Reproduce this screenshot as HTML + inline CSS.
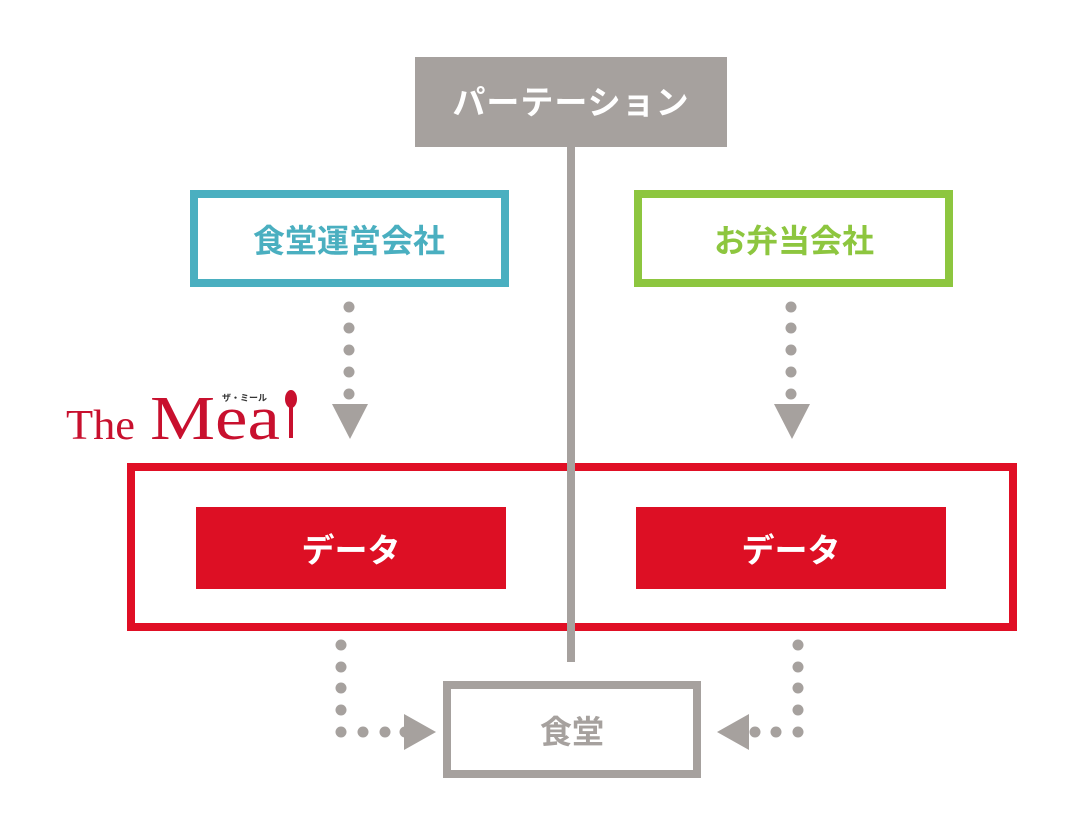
<!DOCTYPE html>
<html><head><meta charset="utf-8"><style>
html,body{margin:0;padding:0;background:#fff;}
svg{display:block;}
text{font-family:"Liberation Sans","Noto Sans CJK JP",sans-serif;font-weight:bold;}
</style></head><body>
<svg width="1080" height="832" viewBox="0 0 1080 832" xmlns="http://www.w3.org/2000/svg">
<rect x="415" y="57" width="312" height="90" fill="#a6a19e"/>
<text x="571" y="114" font-size="33" fill="#fff" text-anchor="middle" letter-spacing="1">パーテーション</text>
<rect x="194" y="194" width="311" height="89" fill="none" stroke="#4aafc0" stroke-width="8"/>
<text x="349" y="252" font-size="32" fill="#4aafc0" text-anchor="middle">食堂運営会社</text>
<rect x="638" y="194" width="311" height="89" fill="none" stroke="#8dc63f" stroke-width="8"/>
<text x="794" y="252" font-size="32" fill="#8dc63f" text-anchor="middle">お弁当会社</text>
<g fill="#a6a19e">
<circle cx="349" cy="307" r="5.5"/><circle cx="349" cy="328" r="5.5"/><circle cx="349" cy="350" r="5.5"/><circle cx="349" cy="372" r="5.5"/><circle cx="349" cy="394" r="5.5"/>
<polygon points="332,404 368,404 350,439"/>
<circle cx="791" cy="307" r="5.5"/><circle cx="791" cy="328" r="5.5"/><circle cx="791" cy="350" r="5.5"/><circle cx="791" cy="372" r="5.5"/><circle cx="791" cy="394" r="5.5"/>
<polygon points="774,404 810,404 792,439"/>
</g>
<text x="66" y="439" font-size="42" fill="#c8102e" textLength="69" lengthAdjust="spacingAndGlyphs" style="font-family:'Liberation Serif',serif;font-weight:normal">The</text>
<text x="150" y="439" font-size="62" fill="#c8102e" textLength="130" lengthAdjust="spacingAndGlyphs" style="font-family:'Liberation Serif',serif;font-weight:normal">Mea</text>
<text x="222" y="401" font-size="9" fill="#333">ザ・ミール</text>
<ellipse cx="291" cy="399" rx="6" ry="9" fill="#c8102e"/>
<rect x="289" y="405" width="4" height="33" fill="#c8102e"/>
<rect x="131" y="467" width="882" height="160" fill="none" stroke="#e00f25" stroke-width="8"/>
<rect x="196" y="507" width="310" height="82" fill="#dd0f24"/>
<text x="351" y="562" font-size="33" fill="#fff" text-anchor="middle">データ</text>
<rect x="636" y="507" width="310" height="82" fill="#dd0f24"/>
<text x="791" y="562" font-size="33" fill="#fff" text-anchor="middle">データ</text>
<rect x="567" y="147" width="8" height="515" fill="#a6a19e"/>
<rect x="447" y="685" width="250" height="89" fill="none" stroke="#a6a19e" stroke-width="8"/>
<text x="572" y="743" font-size="32" fill="#a6a19e" text-anchor="middle">食堂</text>
<g fill="#a6a19e">
<circle cx="341" cy="645" r="5.5"/><circle cx="341" cy="667" r="5.5"/><circle cx="341" cy="688" r="5.5"/><circle cx="341" cy="710" r="5.5"/><circle cx="341" cy="732" r="5.5"/>
<circle cx="363" cy="732" r="5.5"/><circle cx="385" cy="732" r="5.5"/><circle cx="405" cy="732" r="5.5"/>
<polygon points="404,714 436,732 404,750"/>
<circle cx="798" cy="645" r="5.5"/><circle cx="798" cy="667" r="5.5"/><circle cx="798" cy="688" r="5.5"/><circle cx="798" cy="710" r="5.5"/><circle cx="798" cy="732" r="5.5"/>
<circle cx="776" cy="732" r="5.5"/><circle cx="755" cy="732" r="5.5"/>
<polygon points="749,714 717,732 749,750"/>
</g>
</svg>
</body></html>
